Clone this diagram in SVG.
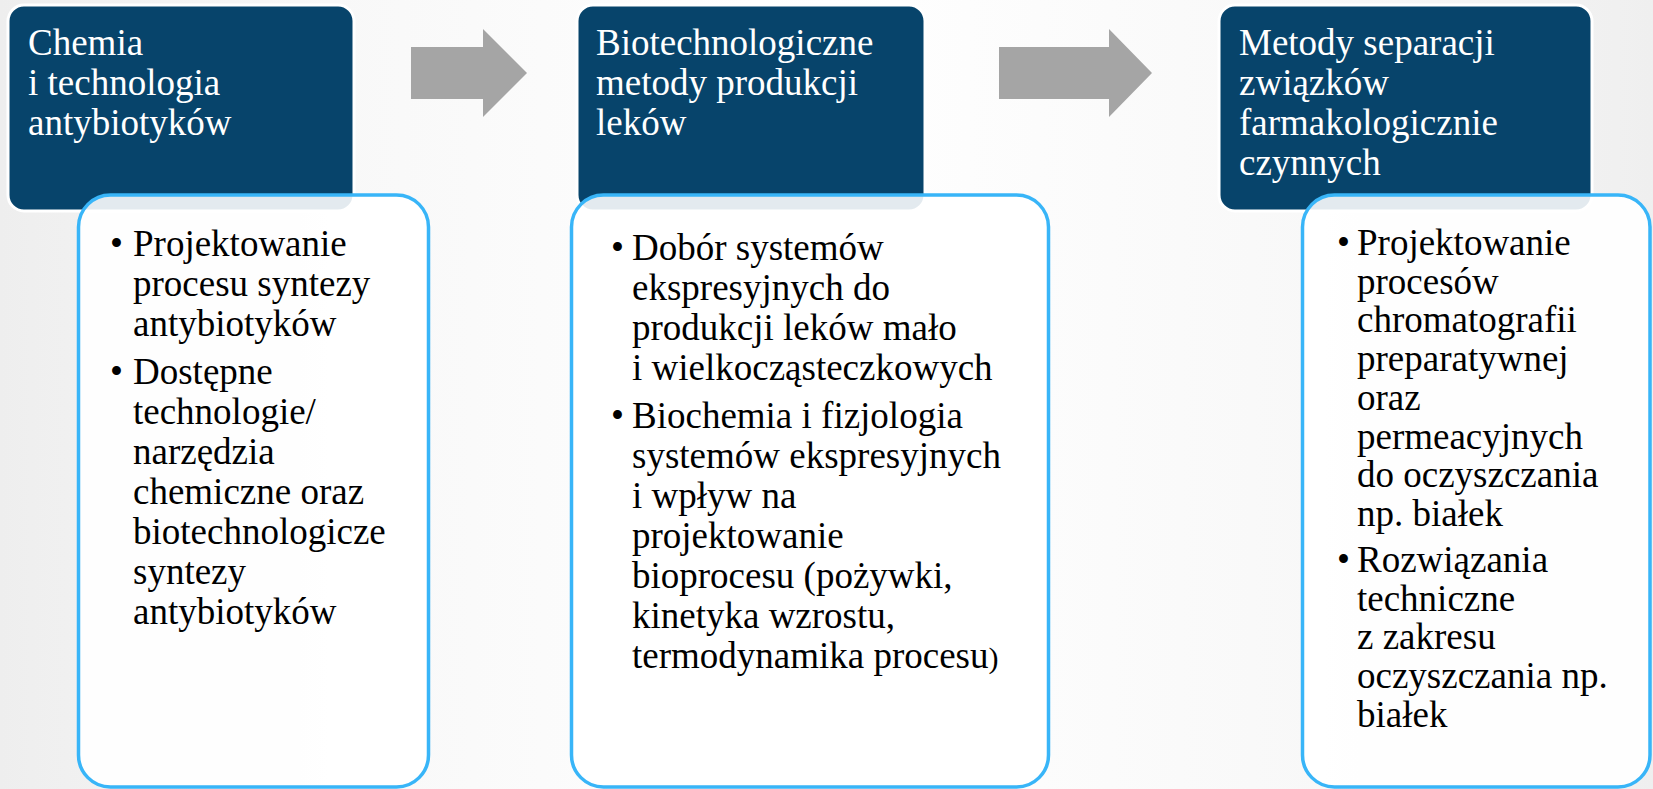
<svg xmlns="http://www.w3.org/2000/svg" width="1653" height="789" viewBox="0 0 1653 789">
<defs>
<linearGradient id="bg" x1="0" y1="0" x2="1" y2="0">
<stop offset="0" stop-color="#EEEEEE"/>
<stop offset="0.2" stop-color="#F8F8F8"/>
<stop offset="0.5" stop-color="#FFFFFF"/>
<stop offset="0.8" stop-color="#F8F8F8"/>
<stop offset="1" stop-color="#EFEFEF"/>
</linearGradient>
</defs>
<style>
.head{fill:#07446B;stroke:#FFFFFF;stroke-width:3}
.body{fill:#FFFFFF;fill-opacity:0.89;stroke:#38B5F8;stroke-width:3.5}
.ttl{font-family:"Liberation Serif","Times New Roman",serif;font-size:37px;fill:#FFFFFF}
.txt{font-family:"Liberation Serif","Times New Roman",serif;font-size:37px;fill:#000000}
.arr{fill:#A5A5A5}
</style>
<rect x="0" y="0" width="1653" height="789" fill="url(#bg)"/>

<g id="connectors">
<polygon class="arr" points="411,47 483,47 483,29 527,73 483,117 483,99 411,99"/>
<polygon class="arr" points="999,47 1109,47 1109,29 1152,73 1109,117 1109,99 999,99"/>
</g>

<g id="node1">
<rect class="head" x="8" y="5" width="346" height="206" rx="16"/>
<text class="ttl" x="28"><tspan x="28" y="55">Chemia</tspan><tspan x="28" y="95">i technologia</tspan><tspan x="28" y="135">antybiotyków</tspan></text>
<rect class="body" x="78.5" y="195" width="350" height="592" rx="32"/>
<text class="txt">
<tspan x="110" y="256">•</tspan><tspan x="133" y="256">Projektowanie</tspan>
<tspan x="133" y="296">procesu syntezy</tspan>
<tspan x="133" y="336">antybiotyków</tspan>
<tspan x="110" y="384">•</tspan><tspan x="133" y="384">Dostępne</tspan>
<tspan x="133" y="424">technologie/</tspan>
<tspan x="133" y="464">narzędzia</tspan>
<tspan x="133" y="504">chemiczne oraz</tspan>
<tspan x="133" y="544">biotechnologicze</tspan>
<tspan x="133" y="584">syntezy</tspan>
<tspan x="133" y="624">antybiotyków</tspan>
</text>
</g>

<g id="node2">
<rect class="head" x="577" y="5" width="348" height="206" rx="16"/>
<text class="ttl"><tspan x="596" y="55">Biotechnologiczne</tspan><tspan x="596" y="95">metody produkcji</tspan><tspan x="596" y="135">leków</tspan></text>
<rect class="body" x="571.5" y="195" width="477" height="592" rx="32"/>
<text class="txt">
<tspan x="611" y="260">•</tspan><tspan x="632" y="260">Dobór systemów</tspan>
<tspan x="632" y="300">ekspresyjnych do</tspan>
<tspan x="632" y="340">produkcji leków mało</tspan>
<tspan x="632" y="380">i wielkocząsteczkowych</tspan>
<tspan x="611" y="428">•</tspan><tspan x="632" y="428">Biochemia i fizjologia</tspan>
<tspan x="632" y="468">systemów ekspresyjnych</tspan>
<tspan x="632" y="508">i wpływ na</tspan>
<tspan x="632" y="548">projektowanie</tspan>
<tspan x="632" y="588">bioprocesu (pożywki,</tspan>
<tspan x="632" y="628">kinetyka wzrostu,</tspan>
<tspan x="632" y="668">termodynamika procesu<tspan font-size="30">)</tspan></tspan>
</text>
</g>

<g id="node3">
<rect class="head" x="1219" y="5" width="373" height="206" rx="16"/>
<text class="ttl"><tspan x="1239" y="55">Metody separacji</tspan><tspan x="1239" y="95">związków</tspan><tspan x="1239" y="135">farmakologicznie</tspan><tspan x="1239" y="175">czynnych</tspan></text>
<rect class="body" x="1302.5" y="195" width="347.5" height="592" rx="32"/>
<text class="txt">
<tspan x="1337" y="255">•</tspan><tspan x="1357" y="255">Projektowanie</tspan>
<tspan x="1357" y="294">procesów</tspan>
<tspan x="1357" y="332">chromatografii</tspan>
<tspan x="1357" y="371">preparatywnej</tspan>
<tspan x="1357" y="410">oraz</tspan>
<tspan x="1357" y="449">permeacyjnych</tspan>
<tspan x="1357" y="487">do oczyszczania</tspan>
<tspan x="1357" y="526">np. białek</tspan>
<tspan x="1337" y="572">•</tspan><tspan x="1357" y="572">Rozwiązania</tspan>
<tspan x="1357" y="611">techniczne</tspan>
<tspan x="1357" y="649">z zakresu</tspan>
<tspan x="1357" y="688">oczyszczania np.</tspan>
<tspan x="1357" y="727">białek</tspan>
</text>
</g>
</svg>
